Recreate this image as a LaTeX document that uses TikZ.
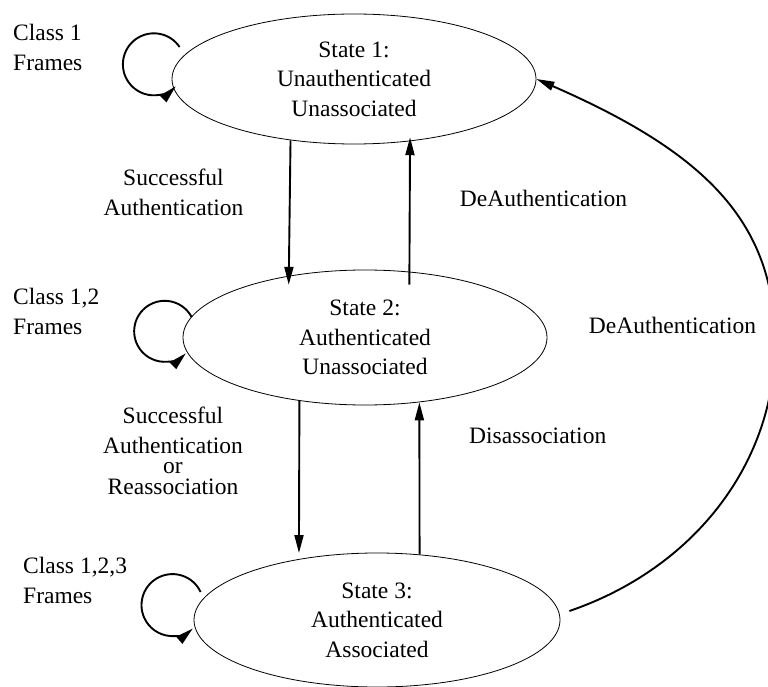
\documentclass[tikz,border=0pt]{standalone}
\usepackage{fontspec}
\setmainfont{Liberation Serif}
\usetikzlibrary{shapes.geometric,arrows.meta}
\begin{document}
\begin{tikzpicture}[x=1pt, y=1pt,
font=\fontsize{23.5}{29.5}\selectfont,
state/.style={ellipse, draw, line width=0.8pt, inner sep=0pt, align=center},
arr/.style={-{Triangle[length=18pt,width=9pt]}, line width=1.9pt},
lbl/.style={inner sep=0pt}]
\useasboundingbox (0,0) rectangle (768,-687);
\node[state, minimum width=364pt, minimum height=130pt] (s1) at (354,-79) {State 1:\\Unauthenticated\\Unassociated};
\node[state, minimum width=364pt, minimum height=135pt] (s2) at (365,-337.5) {State 2:\\Authenticated\\Unassociated};
\node[state, minimum width=366pt, minimum height=134pt] (s3) at (377,-620) {State 3:\\Authenticated\\Associated};
\node[lbl, anchor=north west, align=left] (f1) at (13,-24) {Class 1\\Frames};
\node[lbl, anchor=north west, align=left] (f2) at (13,-288) {Class 1,2\\Frames};
\node[lbl, anchor=north west, align=left] (f3) at (23,-557) {Class 1,2,3\\Frames};
\node[lbl, anchor=north, align=center] (t12) at (173.5,-169) {Successful\\Authentication};
\node[lbl, anchor=base] (t21) at (543.5,-207) {DeAuthentication};
\node[lbl, anchor=base] (t31) at (672.5,-333) {DeAuthentication};
\node[lbl, anchor=base west] (t32) at (469,-443) {Disassociation};
\node[lbl, anchor=north, align=center] (t23) at (173,-407) {Successful\\Authentication\\[-9pt]or\\[-9pt]Reassociation};
% self loops
\draw[arr] ([shift={(8,32)}]s1.west) arc[start angle=34, end angle=315, radius=31];
\draw[arr] ([shift={(9,20.5)}]s2.west) arc[start angle=28, end angle=314, radius=30.5];
\draw[arr] ([shift={(7,28)}]s3.west) arc[start angle=25, end angle=311, radius=31];
% transitions
\draw[arr, shorten >=-9pt] (s1.224) -- (s2.141);
\draw[arr, shorten <=-13pt, shorten >=-4pt] (s2.56) -- (s1.312);
\draw[arr, shorten >=6pt] (s2.224) -- (s3.142);
\draw[arr] (s3.57) -- (s2.310);
\draw[arr] ([shift={(9,9)}]s3.east) .. controls +(123,42) and +(0,-122) .. (775,-343)
  .. controls +(0,123) and +(166,-72.5) .. (s1.east);
\end{tikzpicture}
\end{document}
